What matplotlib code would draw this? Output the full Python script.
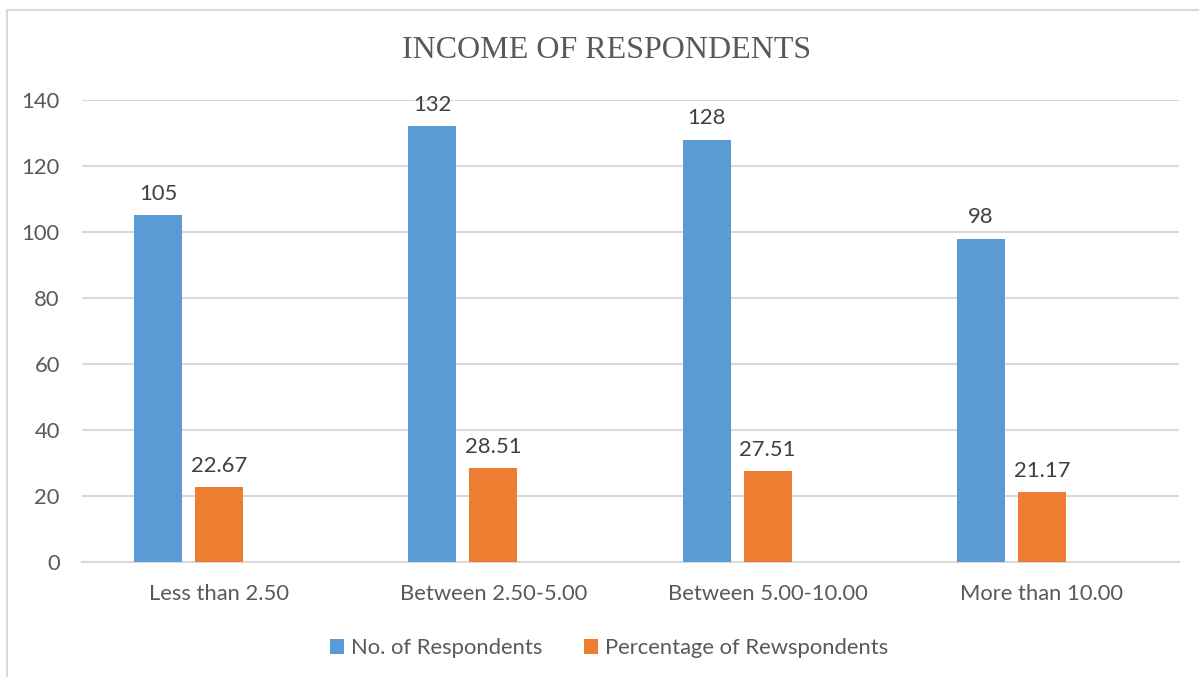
import numpy as np
import matplotlib
matplotlib.use("Agg")
import matplotlib.pyplot as plt
from matplotlib.patches import Rectangle

categories = ["Less than 2.50", "Between 2.50-5.00", "Between 5.00-10.00", "More than 10.00"]
respondents = [105, 132, 128, 98]
percentage = [22.67, 28.51, 27.51, 21.17]

blue = "#5B9BD5"
orange = "#ED7D31"
txt = "#595959"
grid = "#D9D9D9"

plt.rcParams["font.family"] = ["Lato", "DejaVu Sans"]
fs = 15.8

fig = plt.figure(figsize=(11.99, 6.77), dpi=100)
ax = fig.add_axes([0.0684, 0.1699, 0.9149, 0.6824])

x = np.arange(len(categories))
w = 0.175
b1 = ax.bar(x - 0.2224, respondents, w, color=blue, label="No. of Respondents", zorder=3)
b2 = ax.bar(x, percentage, w, color=orange, label="Percentage of Rewspondents", zorder=3)

for bars, vals in ((b1, respondents), (b2, percentage)):
    for r, v in zip(bars, vals):
        ax.annotate(f"{v:g}", (r.get_x() + r.get_width() / 2, v), xytext=(0, 8),
                    textcoords="offset points", ha="center", va="bottom",
                    fontsize=fs, color="#404040")

ax.set_xlim(-0.5, 3.5)
ax.set_ylim(0, 140)
ax.set_yticks(range(0, 141, 20))
ax.set_xticks(x)
ax.set_xticklabels(categories)
ax.yaxis.grid(True, color=grid, lw=1.5, zorder=0)
for s in ("top", "right", "left"):
    ax.spines[s].set_visible(False)
ax.spines["bottom"].set_color(grid)
ax.spines["bottom"].set_linewidth(1.5)
ax.tick_params(axis="both", length=0, labelsize=fs, colors=txt)
ax.tick_params(axis="x", pad=16)
ax.tick_params(axis="y", pad=16)

fig.text(0.506, 0.925, "INCOME OF RESPONDENTS", ha="center", va="center",
         fontsize=23, color=txt, family="Liberation Serif")

fig.legend(loc="center", bbox_to_anchor=(0.508, 0.043), ncol=2, frameon=False,
           fontsize=fs, labelcolor=txt, handlelength=0.65, handleheight=0.65,
           handletextpad=0.3, columnspacing=1.9)

# outer chart border
fig.patches.append(Rectangle((7 / 1199, -0.1), 1.2, (667 / 677) + 0.1,
                             transform=fig.transFigure, fill=False,
                             edgecolor=grid, lw=1.5))

fig.savefig("out.png", dpi=100, facecolor="white")
